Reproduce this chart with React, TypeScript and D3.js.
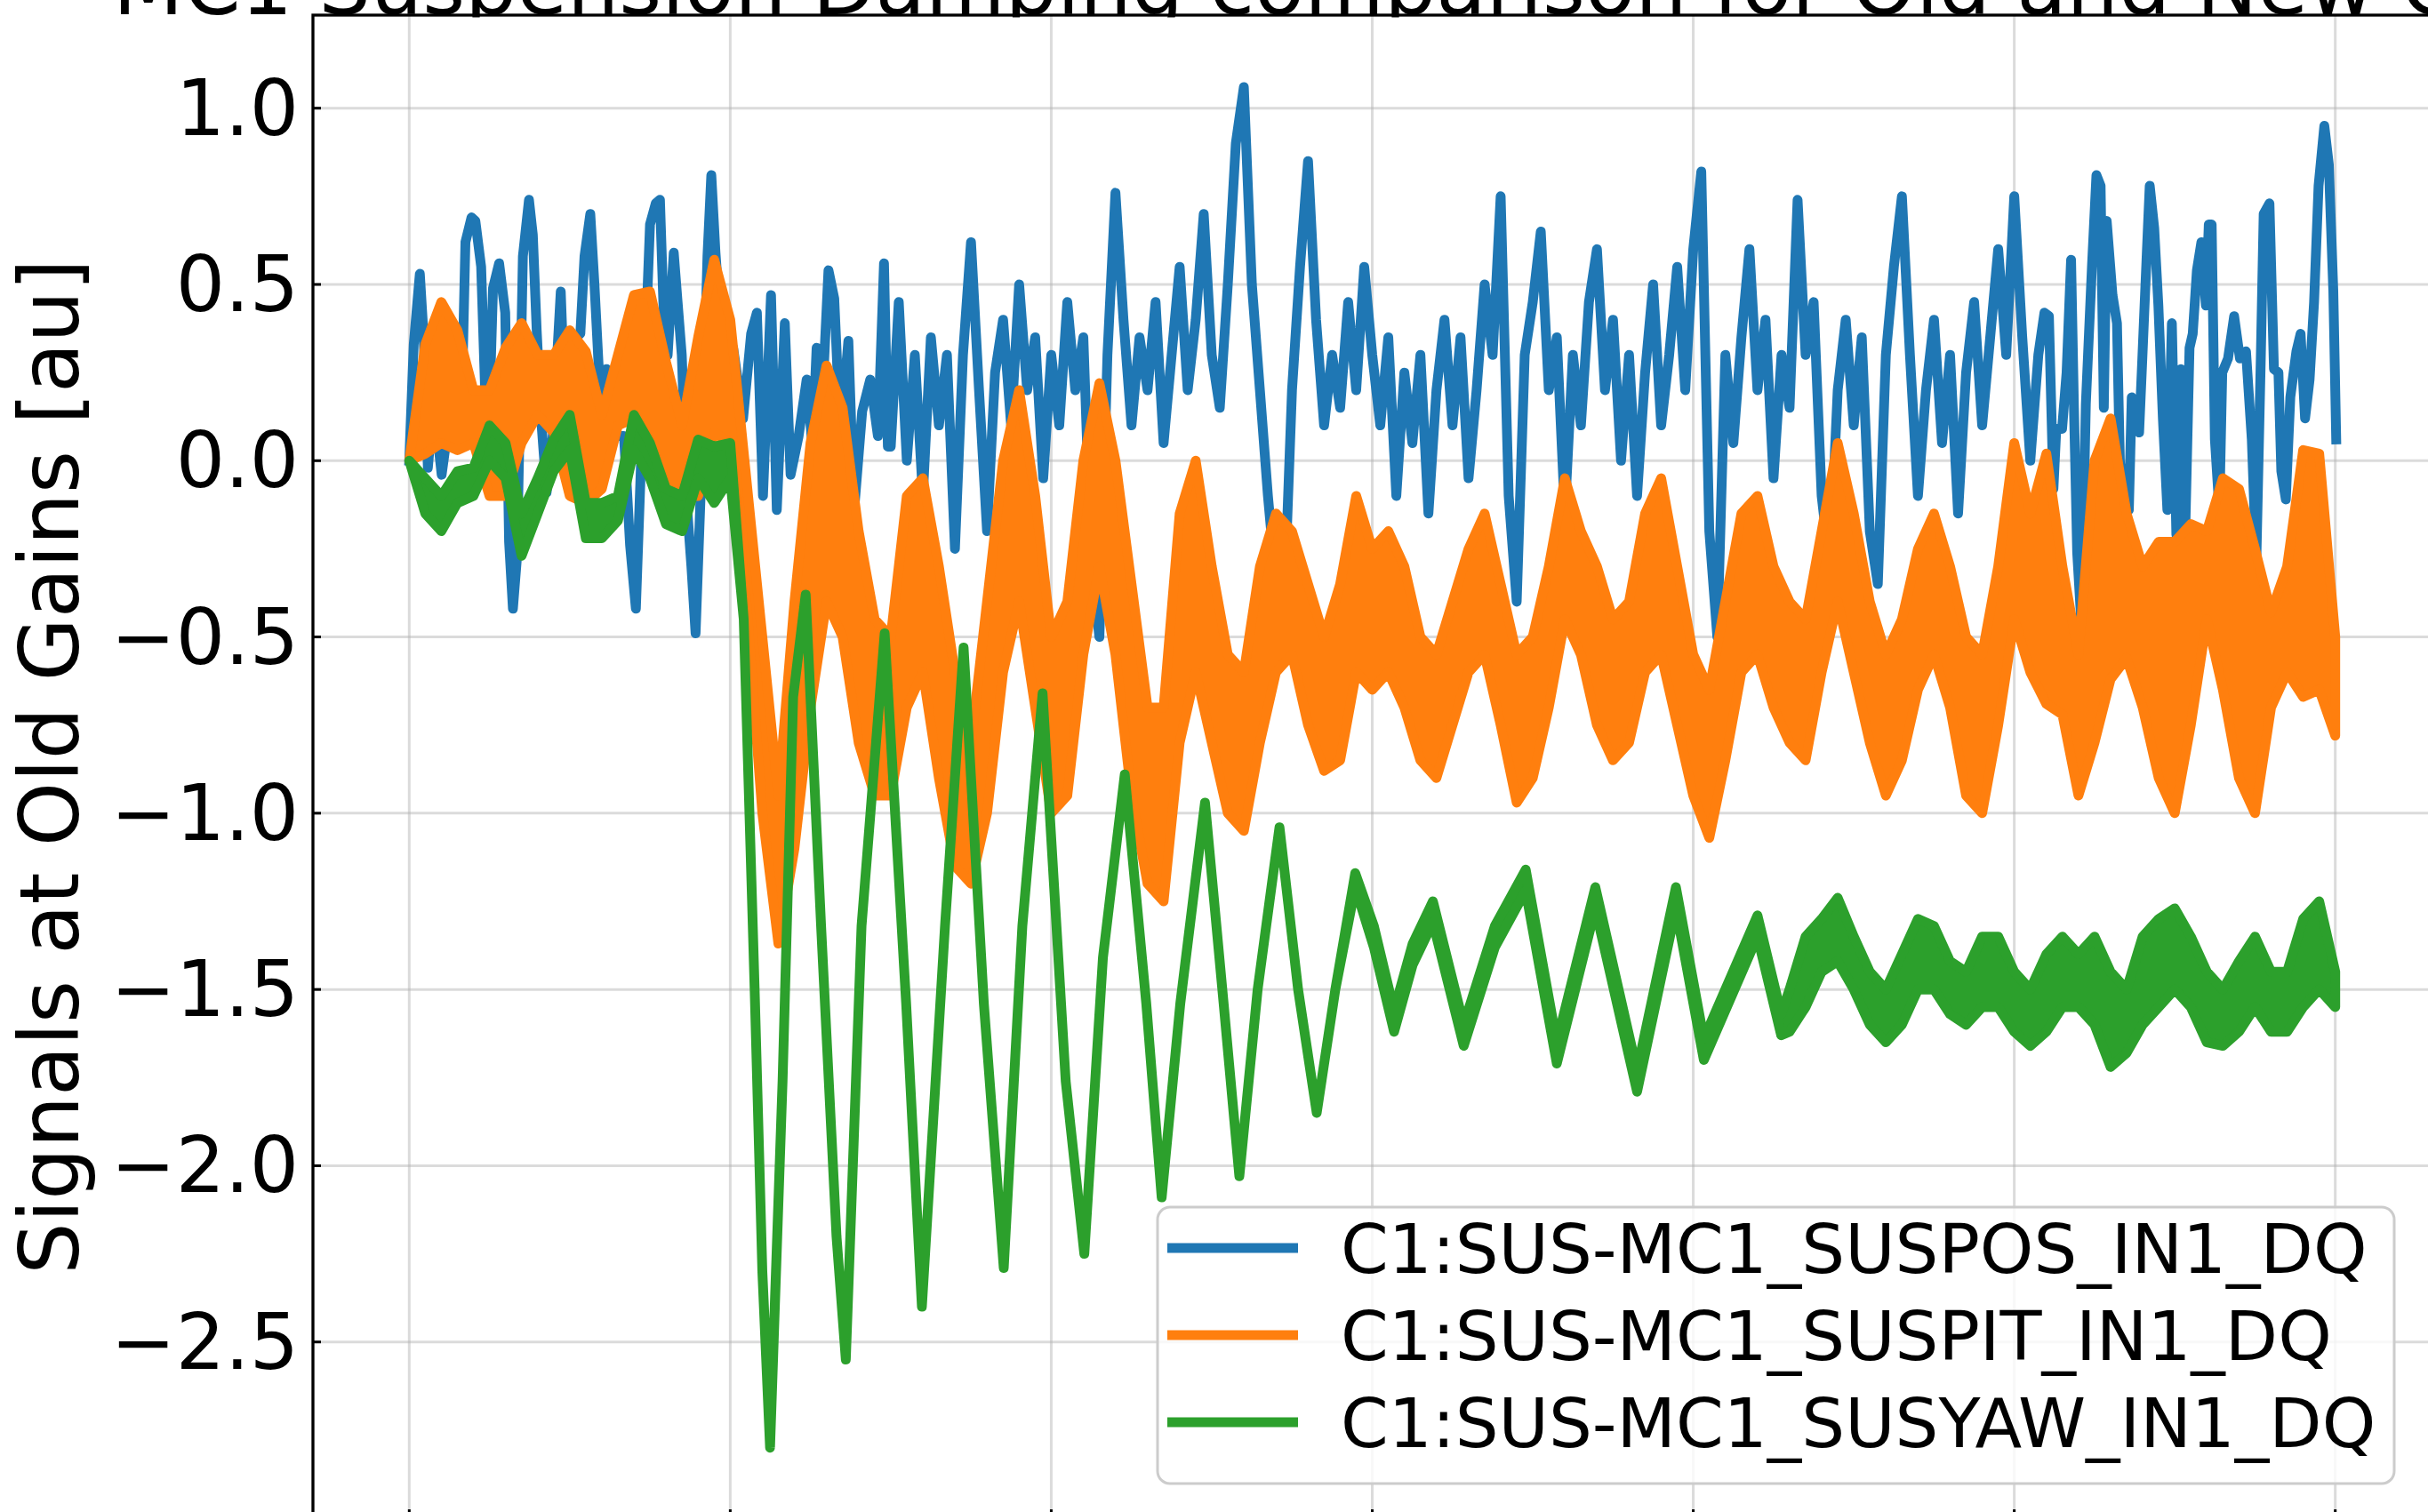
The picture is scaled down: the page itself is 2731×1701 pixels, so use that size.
import React from "react";
import * as d3 from "d3";

// MC1 suspension damping: three DQ channels, time in grid units (0..6)

const W = 2731;
const H = 1701;
const FONT = "DejaVu Sans, sans-serif";

const titleText = "MC1 Suspension Damping comparison for Old and New Gains";
const yLabel = "Signals at Old Gains [au]";
const seriesNames = [
  "C1:SUS-MC1_SUSPOS_IN1_DQ",
  "C1:SUS-MC1_SUSPIT_IN1_DQ",
  "C1:SUS-MC1_SUSYAW_IN1_DQ",
];
const colors = ["#1f77b4", "#ff7f0e", "#2ca02c"];
const yTicks = [-2.5, -2.0, -1.5, -1.0, -0.5, 0.0, 0.5, 1.0];
const xTicks = [0, 1, 2, 3, 4, 5, 6];

// SUSPOS, start (read closely): [t, value]
const blueA: [number, number][] = [
  [0, 0.0], [0.014, 0.33], [0.033, 0.53], [0.045, 0.35], [0.058, -0.02], [0.076, 0.17], [0.101, -0.04],
  [0.126, 0.13], [0.15, 0.36], [0.163, 0.14], [0.175, 0.62], [0.194, 0.69], [0.206, 0.68], [0.224, 0.55],
  [0.237, 0.18], [0.249, 0.12], [0.261, 0.49], [0.28, 0.56], [0.299, 0.42], [0.311, -0.23], [0.323, -0.42],
  [0.336, -0.27], [0.354, 0.58], [0.373, 0.74], [0.385, 0.64], [0.397, 0.37], [0.41, 0.13], [0.428, -0.09],
  [0.447, 0.07], [0.472, 0.48], [0.484, 0.18], [0.496, 0.18], [0.515, 0.35], [0.533, 0.36], [0.546, 0.58],
  [0.564, 0.7], [0.577, 0.5], [0.595, 0.18], [0.614, 0.26], [0.632, 0.09], [0.651, 0.07], [0.669, 0.07],
  [0.688, -0.24], [0.706, -0.42], [0.725, 0.07], [0.75, 0.67], [0.768, 0.73], [0.781, 0.74], [0.793, 0.41],
  [0.805, 0.3], [0.824, 0.59], [0.836, 0.45], [0.849, 0.3], [0.867, -0.15], [0.879, -0.3], [0.892, -0.49],
  [0.91, -0.04], [0.929, 0.58], [0.941, 0.81], [0.954, 0.59], [0.972, 0.36], [0.991, 0.18], [1.009, 0.32],
  [1.028, 0.2], [1.04, 0.12], [1.065, 0.36], [1.083, 0.42], [1.102, -0.1], [1.127, 0.47], [1.145, -0.14],
  [1.17, 0.39], [1.188, -0.04], [1.213, 0.07], [1.238, 0.23], [1.256, 0.04], [1.269, 0.32], [1.287, 0.18],
  [1.306, 0.54], [1.324, 0.46], [1.343, 0.07], [1.368, 0.34], [1.386, -0.14], [1.411, 0.14], [1.436, 0.23],
  [1.46, 0.07], [1.479, 0.56], [1.491, 0.04],
];
// SUSPOS, middle, sampled every 0.025 from t = 1.5
const blueB = [
  0.04, 0.45, 0.0, 0.3, -0.1, 0.35, 0.1, 0.3, -0.25, 0.3,
  0.62, 0.2, -0.2, 0.25, 0.4, 0.1, 0.5, 0.2, 0.35, -0.05,
  0.3, 0.1, 0.45, 0.2, 0.35, -0.3, -0.5, 0.3, 0.76, 0.4,
  0.1, 0.35, 0.2, 0.45, 0.05, 0.3, 0.55, 0.2, 0.4, 0.7,
  0.3, 0.15, 0.5, 0.9, 1.06, 0.5, 0.2, -0.1, -0.35, -0.42,
  0.2, 0.55, 0.85, 0.4, 0.1, 0.3, 0.15, 0.45, 0.2, 0.55,
  0.3, 0.1, 0.35, -0.1, 0.25, 0.05, 0.3, -0.15, 0.2, 0.4,
  0.1, 0.35, -0.05, 0.2, 0.5, 0.3, 0.75, -0.1, -0.4, 0.3,
  0.45, 0.65, 0.2, 0.35, -0.15, 0.3, 0.1, 0.45, 0.6, 0.2,
  0.4, 0.0, 0.3, -0.1, 0.25, 0.5, 0.1, 0.3, 0.55, 0.2,
  0.6, 0.82, -0.2, -0.5, 0.3, 0.05, 0.35, 0.6, 0.2, 0.4,
  -0.05, 0.3, 0.15, 0.74, 0.3, 0.45, -0.1, -0.3, 0.2, 0.4,
  0.1, 0.35, -0.2, -0.35, 0.3, 0.55, 0.75, 0.3, -0.1, 0.2,
  0.4, 0.05, 0.3, -0.15, 0.25, 0.45, 0.1, 0.35, 0.6, 0.3,
  0.75, 0.35, 0.0, 0.3,
];
// SUSPOS, end (read closely): [t, value]
const blueC: [number, number][] = [
  [5.094, 0.42], [5.108, 0.41], [5.122, -0.08], [5.131, 0.09], [5.149, 0.09], [5.163, 0.25], [5.177, 0.57],
  [5.186, 0.15], [5.196, -0.26], [5.209, -0.46], [5.223, 0.16], [5.242, 0.55], [5.256, 0.81], [5.269, 0.78],
  [5.279, 0.15], [5.288, 0.68], [5.306, 0.47], [5.32, 0.39], [5.329, 0.0], [5.343, -0.14], [5.357, -0.14],
  [5.366, 0.18], [5.38, 0.12], [5.389, 0.08], [5.399, 0.29], [5.412, 0.57], [5.422, 0.78], [5.436, 0.66],
  [5.449, 0.44], [5.463, 0.12], [5.477, -0.14], [5.491, 0.39], [5.505, -0.21], [5.519, 0.26], [5.532, -0.23],
  [5.546, 0.32], [5.556, 0.36], [5.569, 0.54], [5.583, 0.62], [5.597, 0.44], [5.606, 0.67], [5.615, 0.67],
  [5.625, 0.06], [5.639, -0.14], [5.648, 0.25], [5.666, 0.29], [5.685, 0.41], [5.703, 0.29], [5.722, 0.31],
  [5.74, 0.06], [5.754, -0.29], [5.768, 0.29], [5.777, 0.7], [5.795, 0.73], [5.809, 0.26], [5.823, 0.25],
  [5.832, -0.03], [5.846, -0.11], [5.86, 0.18], [5.879, 0.31], [5.892, 0.36], [5.906, 0.12], [5.92, 0.23],
  [5.934, 0.45], [5.948, 0.78], [5.966, 0.95], [5.98, 0.84], [5.994, 0.48], [6.003, 0.06],
];

// SUSPIT band (upper / lower edge), sampled every 0.05
const orangeHi = [
  0, 0.33, 0.45, 0.37, 0.2, 0.2, 0.32, 0.39, 0.3, 0.3, 0.37, 0.31, 0.13, 0.3, 0.47, 0.48, 0.28, 0.1, 0.35, 0.57,
  0.4, -0.05, -0.5, -0.95, -0.4, 0.05, 0.27, 0.15, -0.2, -0.45, -0.5, -0.1, -0.05, -0.3, -0.6, -0.8, -0.4, 0.0, 0.2, -0.1,
  -0.5, -0.4, 0.0, 0.22, 0.0, -0.35, -0.7, -0.7, -0.15, 0.0, -0.3, -0.55, -0.6, -0.3, -0.15, -0.2, -0.35, -0.5, -0.35, -0.1,
  -0.25, -0.2, -0.3, -0.5, -0.55, -0.4, -0.25, -0.15, -0.35, -0.55, -0.5, -0.3, -0.05, -0.2, -0.3, -0.45, -0.4, -0.15, -0.05, -0.3,
  -0.55, -0.65, -0.4, -0.15, -0.1, -0.3, -0.4, -0.45, -0.2, 0.05, -0.15, -0.4, -0.55, -0.45, -0.25, -0.15, -0.3, -0.5, -0.55, -0.3,
  0.05, -0.15, 0.02, -0.3, -0.55, 0.0, 0.12, -0.15, -0.3, -0.23, -0.23, -0.18, -0.2, -0.05, -0.08, -0.25, -0.43, -0.3, 0.03, 0.02,
  -0.5];
const orangeLo = [
  0, 0.02, 0.05, 0.03, 0.05, -0.1, -0.1, 0.05, 0.13, 0.08, -0.1, -0.12, -0.08, 0.1, 0.12, -0.02, -0.1, -0.1, -0.1, 0.08,
  0.05, -0.4, -1.0, -1.37, -1.1, -0.7, -0.4, -0.5, -0.8, -0.95, -0.95, -0.7, -0.6, -0.9, -1.15, -1.2, -1.0, -0.6, -0.4, -0.7,
  -1.0, -0.95, -0.55, -0.3, -0.55, -0.95, -1.2, -1.25, -0.8, -0.6, -0.8, -1.0, -1.05, -0.8, -0.6, -0.55, -0.75, -0.88, -0.85, -0.6,
  -0.65, -0.6, -0.7, -0.85, -0.9, -0.75, -0.6, -0.55, -0.75, -0.97, -0.9, -0.7, -0.45, -0.55, -0.75, -0.85, -0.8, -0.6, -0.55, -0.75,
  -0.95, -1.07, -0.85, -0.6, -0.55, -0.7, -0.8, -0.85, -0.6, -0.4, -0.6, -0.8, -0.95, -0.85, -0.65, -0.55, -0.7, -0.95, -1.0, -0.75,
  -0.45, -0.6, -0.69, -0.72, -0.95, -0.8, -0.62, -0.56, -0.7, -0.9, -1.0, -0.75, -0.45, -0.65, -0.9, -1.0, -0.7, -0.6, -0.67, -0.65,
  -0.78];

// SUSYAW, irregular samples (turning points of the big swings)
const greenT = [
  0, 0.05, 0.1, 0.15, 0.2, 0.25, 0.3, 0.35, 0.4, 0.45, 0.5, 0.55, 0.6, 0.65, 0.7, 0.75, 0.8, 0.85, 0.9, 0.95, 1.0,
  1.042, 1.076, 1.1, 1.124, 1.163, 1.196, 1.235, 1.283, 1.331, 1.36, 1.409, 1.481, 1.548, 1.597, 1.669, 1.727,
  1.79, 1.852, 1.91, 1.973, 2.045, 2.103, 2.161, 2.229, 2.296, 2.344, 2.402, 2.479, 2.537, 2.586, 2.643, 2.711,
  2.769, 2.827, 2.885, 2.947, 3.005, 3.068, 3.126, 3.189, 3.285, 3.382, 3.478, 3.575, 3.695, 3.825, 3.946, 4.033,
  4.2, 4.274,
  4.3, 4.35, 4.4, 4.45, 4.5, 4.55, 4.6, 4.65, 4.7, 4.75, 4.8, 4.85, 4.9, 4.95, 5.0, 5.05, 5.1, 5.15, 5.2, 5.25,
  5.3, 5.35, 5.4, 5.45, 5.5, 5.55, 5.6, 5.65, 5.7, 5.75, 5.8, 5.85, 5.9, 5.95, 6.0];
const greenHi = [
  0, -0.05, -0.1, -0.03, -0.02, 0.1, 0.05, -0.15, -0.05, 0.06, 0.13, -0.12, -0.12, -0.1, 0.13, 0.05, -0.08, -0.1, 0.06, 0.04, 0.05,
  -0.45, -1.5, -2.3, -2.78, -1.76, -0.67, -0.38, -1.32, -2.2, -2.55, -1.32, -0.49, -1.54, -2.4, -1.32, -0.53,
  -1.54, -2.29, -1.32, -0.66, -1.76, -2.25, -1.41, -0.89, -1.54, -2.09, -1.54, -0.97, -1.54, -2.03, -1.5, -1.04,
  -1.5, -1.85, -1.5, -1.17, -1.32, -1.56, -1.37, -1.25, -1.6, -1.32, -1.16, -1.65, -1.21, -1.73, -1.21, -1.64,
  -1.29, -1.57,
  -1.5, -1.35, -1.3, -1.24, -1.35, -1.45, -1.5, -1.4, -1.3, -1.32, -1.42, -1.45, -1.35, -1.35, -1.45, -1.5, -1.4, -1.35, -1.4, -1.35,
  -1.45, -1.5, -1.35, -1.3, -1.27, -1.35, -1.45, -1.5, -1.42, -1.35, -1.45, -1.45, -1.3, -1.25, -1.45];
const greenLo = [
  0, -0.15, -0.2, -0.12, -0.1, 0.0, -0.05, -0.27, -0.15, -0.03, 0.03, -0.22, -0.22, -0.17, 0.03, -0.05, -0.18, -0.2, -0.05, -0.12, -0.05,
  -0.45, -1.5, -2.3, -2.8, -1.76, -0.67, -0.38, -1.32, -2.2, -2.55, -1.32, -0.49, -1.54, -2.4, -1.32, -0.53,
  -1.54, -2.29, -1.32, -0.66, -1.76, -2.25, -1.41, -0.89, -1.54, -2.09, -1.54, -0.97, -1.54, -2.03, -1.5, -1.04,
  -1.5, -1.85, -1.5, -1.21, -1.38, -1.62, -1.43, -1.31, -1.66, -1.38, -1.22, -1.71, -1.27, -1.79, -1.27, -1.7,
  -1.35, -1.63,
  -1.62, -1.55, -1.45, -1.42, -1.5, -1.6, -1.65, -1.6, -1.5, -1.5, -1.57, -1.6, -1.55, -1.55, -1.62, -1.66, -1.62, -1.55, -1.55, -1.6,
  -1.72, -1.68, -1.6, -1.55, -1.5, -1.55, -1.65, -1.66, -1.62, -1.55, -1.62, -1.62, -1.55, -1.5, -1.55];

const bluePts: [number, number][] = [
  ...blueA,
  ...blueB.map((v, i) => [1.5 + i * 0.025, v] as [number, number]),
  ...blueC,
];
const orangePts: [number, number, number][] = orangeHi.map((h, i) => [i * 0.05, h, orangeLo[i]]);
const greenPts: [number, number, number][] = greenT.map((t, i) => [t, greenHi[i], greenLo[i]]);

// axes box (right and bottom spines fall just outside the picture)
const left = 352, right = 2735, top = 17, bottom = 1708;
const x = d3.scaleLinear().domain([-0.3, 6.3]).range([left, right]);
const y = d3.scaleLinear().domain([-3.0, 1.264]).range([bottom, top]);

const LW = 11;

export default function App() {
  const line = d3.line<[number, number]>().x((d) => x(d[0])).y((d) => y(d[1]));
  const band = d3.area<[number, number, number]>()
    .x((d) => x(d[0]))
    .y0((d) => y(d[2]))
    .y1((d) => y(d[1]));

  const fmt = (v: number) => v.toFixed(1).replace("-", "\u2212");
  const legendY = [1404, 1502, 1600];

  return (
    <svg width={W} height={H} style={{ position: "absolute", left: 0, top: 0, display: "block" }}
      fontFamily={FONT}>
      <defs>
        <clipPath id="plotArea">
          <rect x={left} y={top} width={right - left} height={bottom - top} />
        </clipPath>
      </defs>
      <rect width={W} height={H} fill="white" />

      {/* title mostly above the picture, partly hidden by the axes */}
      <text x={(left + right) / 2} y={16} textAnchor="middle" fontSize={92}>{titleText}</text>
      <rect x={left} y={19.5} width={right - left} height={bottom - 19.5} fill="white" />

      {/* grid */}
      {xTicks.map((t) => (
        <line key={"gx" + t} x1={x(t)} x2={x(t)} y1={top} y2={bottom} stroke="#b0b0b0" strokeOpacity={0.45} strokeWidth={3} />
      ))}
      {yTicks.map((v) => (
        <line key={"gy" + v} x1={left} x2={right} y1={y(v)} y2={y(v)} stroke="#b0b0b0" strokeOpacity={0.45} strokeWidth={3} />
      ))}

      <g clipPath="url(#plotArea)" strokeLinejoin="round">
        <path d={line(bluePts) ?? ""} fill="none" stroke={colors[0]} strokeWidth={LW} strokeLinecap="square" />
        <path d={band(orangePts) ?? ""} fill={colors[1]} stroke={colors[1]} strokeWidth={LW} />
        <path d={band(greenPts) ?? ""} fill={colors[2]} stroke={colors[2]} strokeWidth={LW} />
      </g>

      {/* ticks pointing inward */}
      {yTicks.map((v) => (
        <g key={"ty" + v}>
          <line x1={left} x2={left + 9} y1={y(v)} y2={y(v)} stroke="black" strokeWidth={3} />
          <text x={336} y={y(v)} textAnchor="end" dominantBaseline="central" fontSize={87}>{fmt(v)}</text>
        </g>
      ))}
      {xTicks.map((t) => (
        <line key={"tx" + t} x1={x(t)} x2={x(t)} y1={bottom} y2={bottom - 10} stroke="black" strokeWidth={3} />
      ))}

      <rect x={left} y={top} width={right - left} height={bottom - top} fill="none" stroke="black" strokeWidth={3.3} />

      <text transform={`translate(88, ${(top + bottom) / 2}) rotate(-90)`} textAnchor="middle" fontSize={92}>{yLabel}</text>

      {/* legend */}
      <rect x={1302} y={1358} width={1391} height={311} rx={14} fill="white" fillOpacity={0.8}
        stroke="#cccccc" strokeWidth={3} />
      {seriesNames.map((name, i) => (
        <g key={name}>
          <line x1={1313} x2={1460} y1={legendY[i]} y2={legendY[i]} stroke={colors[i]} strokeWidth={LW} />
          <text x={1508} y={legendY[i] + 28} fontSize={77}>{name}</text>
        </g>
      ))}
    </svg>
  );
}
